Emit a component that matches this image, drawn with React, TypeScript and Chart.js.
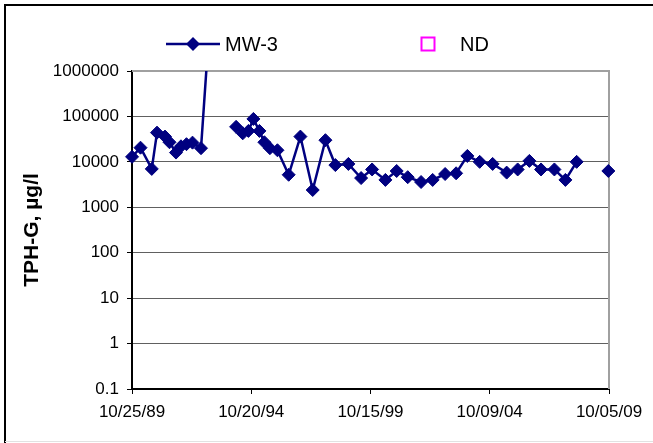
import React, { useEffect, useRef } from "react";
import { Chart, registerables } from "chart.js";

Chart.register(...registerables);

// ---- data ----
const sampleDates: string[] = [
  "1989-10-26", "1990-03-04", "1990-08-23", "1990-11-11", "1991-03-13",
  "1991-05-21", "1991-08-28", "1991-11-12", "1992-02-04", "1992-05-06",
  "1992-09-13", "1993-01-05", "1993-06-01",
  "1994-03-03", "1994-06-12", "1994-09-07", "1994-11-22", "1995-02-22",
  "1995-05-09", "1995-08-01", "1995-11-24", "1996-05-14", "1996-11-09",
  "1997-05-16", "1997-11-26", "1998-04-27", "1998-11-12", "1999-05-25",
  "1999-11-09", "2000-05-30", "2000-11-18", "2001-05-06", "2001-11-26",
  "2002-05-22", "2002-11-28", "2003-05-15", "2003-11-03", "2004-05-09",
  "2004-11-23", "2005-06-25", "2005-12-10", "2006-06-07", "2006-12-02",
  "2007-06-24", "2007-12-09", "2008-05-29", "2008-12-01", "2009-09-25",
];

const mw3Values: (number | null)[] = [
  12900, 20500, 7000, 44000, 36000,
  27000, 16000, 22000, 24500, 26500,
  20000, 5000000, null,
  59000, 42500, 48000, 88000, 48000,
  27000, 20000, 18000, 5200, 36000,
  2400, 30000, 8500, 9000, 4400,
  6800, 4000, 6300, 4600, 3600,
  4000, 5400, 5600, 13500, 10000,
  9000, 5800, 6800, 10500, 6800,
  6800, 4000, 10000, null, 6300,
];

const xTickDates: string[] = ["1989-10-25", "1994-10-20", "1999-10-15", "2004-10-09", "2009-10-05"];
const xTickLabels: string[] = ["10/25/89", "10/20/94", "10/15/99", "10/09/04", "10/05/09"];
const yTickValues: number[] = [0.1, 1, 10, 100, 1000, 10000, 100000, 1000000];
const yTickLabels: string[] = ["0.1", "1", "10", "100", "1000", "10000", "100000", "1000000"];

const seriesLabel = "MW-3";
const ndLabel = "ND";
const yTitle = "TPH-G, µg/l";

// ---- helpers ----
const DAY = 86400000;
const toDay = (s: string) => {
  const [y, m, d] = s.split("-").map(Number);
  return Date.UTC(y, m - 1, d) / DAY;
};

const FONT = '"Liberation Sans", Arial, Helvetica, sans-serif';
const NAVY = "#000080";
const MAGENTA = "#FF00FF";

const decorPlugin = {
  id: "decor",
  beforeDraw(chart: any) {
    const ctx = chart.ctx;
    ctx.save();
    ctx.fillStyle = "#ffffff";
    ctx.fillRect(0, 0, chart.width, chart.height);
    ctx.strokeStyle = "#000000";
    ctx.lineWidth = 2;
    ctx.beginPath();
    ctx.moveTo(5, chart.height);
    ctx.lineTo(5, 5);
    ctx.lineTo(chart.width, 5);
    ctx.stroke();
    ctx.strokeStyle = "#e2e2e2";
    ctx.lineWidth = 1;
    ctx.beginPath();
    ctx.moveTo(5, chart.height - 1.5);
    ctx.lineTo(chart.width, chart.height - 1.5);
    ctx.stroke();
    ctx.restore();
  },
  beforeDatasetsDraw(chart: any) {
    const { ctx, chartArea } = chart;
    ctx.save();
    ctx.strokeStyle = "#a0a0a0";
    ctx.lineWidth = 2;
    ctx.beginPath();
    ctx.moveTo(chartArea.left, chartArea.top);
    ctx.lineTo(chartArea.right, chartArea.top);
    ctx.lineTo(chartArea.right, chartArea.bottom);
    ctx.stroke();
    ctx.restore();
  },
  afterDraw(chart: any) {
    const ctx = chart.ctx;
    const ds0 = chart.data.datasets[0];
    const ds1 = chart.data.datasets[1];
    const ly = 44;
    ctx.save();
    // MW-3 entry
    ctx.strokeStyle = ds0.borderColor;
    ctx.lineWidth = 2.5;
    ctx.beginPath();
    ctx.moveTo(166, ly);
    ctx.lineTo(220, ly);
    ctx.stroke();
    ctx.fillStyle = ds0.pointBackgroundColor;
    const cx = 193, r = 7;
    ctx.beginPath();
    ctx.moveTo(cx, ly - r);
    ctx.lineTo(cx + r, ly);
    ctx.lineTo(cx, ly + r);
    ctx.lineTo(cx - r, ly);
    ctx.closePath();
    ctx.fill();
    ctx.fillStyle = "#000";
    ctx.font = `20px ${FONT}`;
    ctx.textBaseline = "middle";
    ctx.textAlign = "left";
    ctx.fillText(ds0.label, 225, ly + 1);
    // ND entry
    ctx.strokeStyle = ds1.pointBorderColor;
    ctx.lineWidth = 2;
    ctx.strokeRect(421.5, 37.5, 13, 13);
    ctx.fillText(ds1.label, 460, ly + 1);
    ctx.restore();
  },
};

export default function App() {
  const canvasRef = useRef<HTMLCanvasElement | null>(null);

  useEffect(() => {
    if (!canvasRef.current) return;
    const tickDays = xTickDates.map(toDay);
    const points = sampleDates.map((d, i) => ({ x: toDay(d), y: mw3Values[i] }));

    const chart = new Chart(canvasRef.current, {
      type: "line",
      data: {
        datasets: [
          {
            label: seriesLabel,
            data: points as any,
            borderColor: NAVY,
            backgroundColor: NAVY,
            borderWidth: 2.5,
            pointStyle: "rectRot",
            pointRadius: 6.5,
            pointBorderWidth: 1,
            pointBackgroundColor: NAVY,
            pointBorderColor: NAVY,
            spanGaps: false,
            tension: 0,
            clip: { left: 12, right: 12, top: 0, bottom: 0 } as any,
          },
          {
            label: ndLabel,
            data: [],
            showLine: false,
            pointStyle: "rect",
            pointBackgroundColor: "#ffffff",
            pointBorderColor: MAGENTA,
            borderColor: MAGENTA,
          },
        ],
      },
      options: {
        responsive: false,
        animation: false,
        layout: { padding: { top: 71, right: 44, left: 0, bottom: 0 } },
        plugins: {
          legend: { display: false },
          tooltip: { enabled: false },
        },
        scales: {
          x: {
            type: "linear",
            min: tickDays[0],
            max: tickDays[tickDays.length - 1],
            afterBuildTicks: (s: any) => {
              s.ticks = tickDays.map((v) => ({ value: v }));
            },
            afterFit: (s: any) => {
              s.height = 54;
            },
            ticks: {
              autoSkip: false,
              maxRotation: 0,
              padding: 8,
              color: "#000",
              font: { family: FONT, size: 17 },
              callback: (_v: any, i: number) => xTickLabels[i],
            },
            grid: {
              drawOnChartArea: false,
              drawTicks: true,
              tickLength: 5,
              tickColor: "#000",
            },
            border: { color: "#000", width: 2 },
          },
          y: {
            type: "logarithmic",
            min: yTickValues[0],
            max: yTickValues[yTickValues.length - 1],
            afterBuildTicks: (s: any) => {
              s.ticks = yTickValues.map((v) => ({ value: v }));
            },
            afterFit: (s: any) => {
              s.width = 132;
            },
            ticks: {
              autoSkip: false,
              padding: 8,
              color: "#000",
              font: { family: FONT, size: 17 },
              callback: (_v: any, i: number) => yTickLabels[i],
            },
            grid: {
              color: "#606060",
              lineWidth: 1,
              tickLength: 5,
              tickColor: "#000",
            },
            border: { color: "#000", width: 2 },
            title: {
              display: true,
              text: yTitle,
              color: "#000",
              font: { family: FONT, size: 21, weight: "bold" },
              padding: { top: 20, bottom: 0 },
            },
          },
        },
      },
      plugins: [decorPlugin],
    } as any);

    return () => chart.destroy();
  }, []);

  return (
    <div style={{ position: "absolute", left: 0, top: 0, width: 653, height: 443, background: "#fff" }}>
      <canvas ref={canvasRef} width={653} height={443} style={{ display: "block" }} />
    </div>
  );
}
